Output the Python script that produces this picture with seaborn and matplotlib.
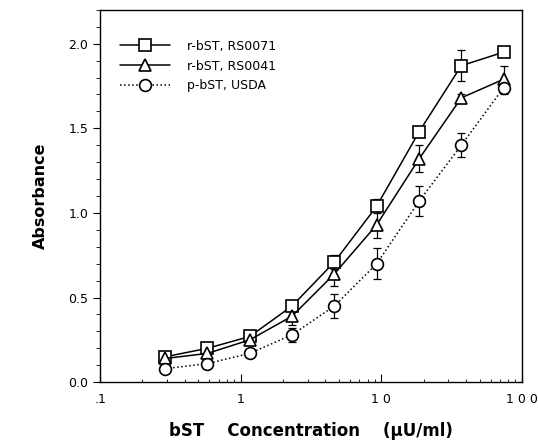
import numpy as np
import pandas as pd
import seaborn as sns
import matplotlib.pyplot as plt
from matplotlib.ticker import FixedLocator, MultipleLocator

# concentrations (uU/ml), doubling dilutions
conc = [0.29, 0.58, 1.16, 2.32, 4.64, 9.28, 18.6, 37.1, 74.2]

# absorbance
rs0071 = [0.15, 0.20, 0.27, 0.45, 0.71, 1.04, 1.48, 1.87, 1.95]
rs0071_err = [0.02, 0.02, 0.02, 0.03, 0.04, 0.04, 0.02, 0.09, 0.02]
rs0041 = [0.14, 0.17, 0.25, 0.39, 0.64, 0.93, 1.32, 1.68, 1.79]
rs0041_err = [0.02, 0.02, 0.03, 0.05, 0.07, 0.08, 0.08, 0.02, 0.08]
usda = [0.08, 0.11, 0.17, 0.28, 0.45, 0.70, 1.07, 1.40, 1.74]
usda_err = [0.02, 0.02, 0.02, 0.04, 0.07, 0.09, 0.09, 0.07, 0.04]

labels = ["r-bST, RS0071", "r-bST, RS0041", "p-bST, USDA"]
xtick_labels = [".1", "1", "1 0", "1 0 0"]

sns.set_style("ticks")
plt.rcParams['font.family'] = ['DejaVu Sans']
plt.rcParams['text.color'] = 'black'
plt.rcParams['axes.labelcolor'] = 'black'
plt.rcParams['xtick.color'] = 'black'
plt.rcParams['ytick.color'] = 'black'

fig = plt.figure(figsize=(5.38, 4.47), dpi=100)
ax = fig.add_axes([0.186, 0.145, 0.784, 0.833])

series = [
    (rs0071, rs0071_err, labels[0], "s", "-", 8.5),
    (rs0041, rs0041_err, labels[1], "^", "-", 8.5),
    (usda, usda_err, labels[2], "o", ":", 8.5),
]

for y, err, lab, mk, ls, ms in series:
    ax.errorbar(conc, y, yerr=err, fmt="none", ecolor="black",
                elinewidth=0.9, capsize=3, capthick=0.9, zorder=2)
    df = pd.DataFrame({"conc": conc, "abs": y})
    sns.lineplot(data=df, x="conc", y="abs", ax=ax, color="black",
                 linestyle=ls, linewidth=1.1, marker=mk, markersize=ms,
                 markerfacecolor="white", markeredgecolor="black",
                 markeredgewidth=1.2, label=lab, zorder=3)

ax.set_xscale("log")
ax.set_xlim(0.1, 100)
ax.set_ylim(0, 2.2)
ax.xaxis.set_major_locator(FixedLocator([0.1, 1, 10, 100]))
ax.set_xticklabels(xtick_labels)
ax.set_yticks([0, 0.5, 1.0, 1.5, 2.0])
ax.set_yticklabels(["0.0", "0.5", "1.0", "1.5", "2.0"])
ax.yaxis.set_minor_locator(MultipleLocator(0.1))
ax.tick_params(axis="x", which="both", direction="in", labelsize=9, pad=8)
ax.tick_params(axis="x", which="major", length=6)
ax.tick_params(axis="y", which="major", direction="out", length=5, labelsize=9)
ax.tick_params(axis="y", which="minor", direction="out", length=3)
for sp in ax.spines.values():
    sp.set_visible(True)
    sp.set_linewidth(1.0)
    sp.set_color("black")

ax.set_xlabel("bST    Concentration    (\u03bcU/ml)", fontsize=12,
              fontweight="bold", labelpad=11)
ax.set_ylabel("Absorbance", fontsize=11.5, fontweight="bold", labelpad=15)

leg = ax.legend(loc="upper left", frameon=False, fontsize=9,
                handlelength=4.0, handletextpad=1.4, labelspacing=0.55,
                bbox_to_anchor=(0.02, 0.95))

fig.savefig("out.png", dpi=100)
